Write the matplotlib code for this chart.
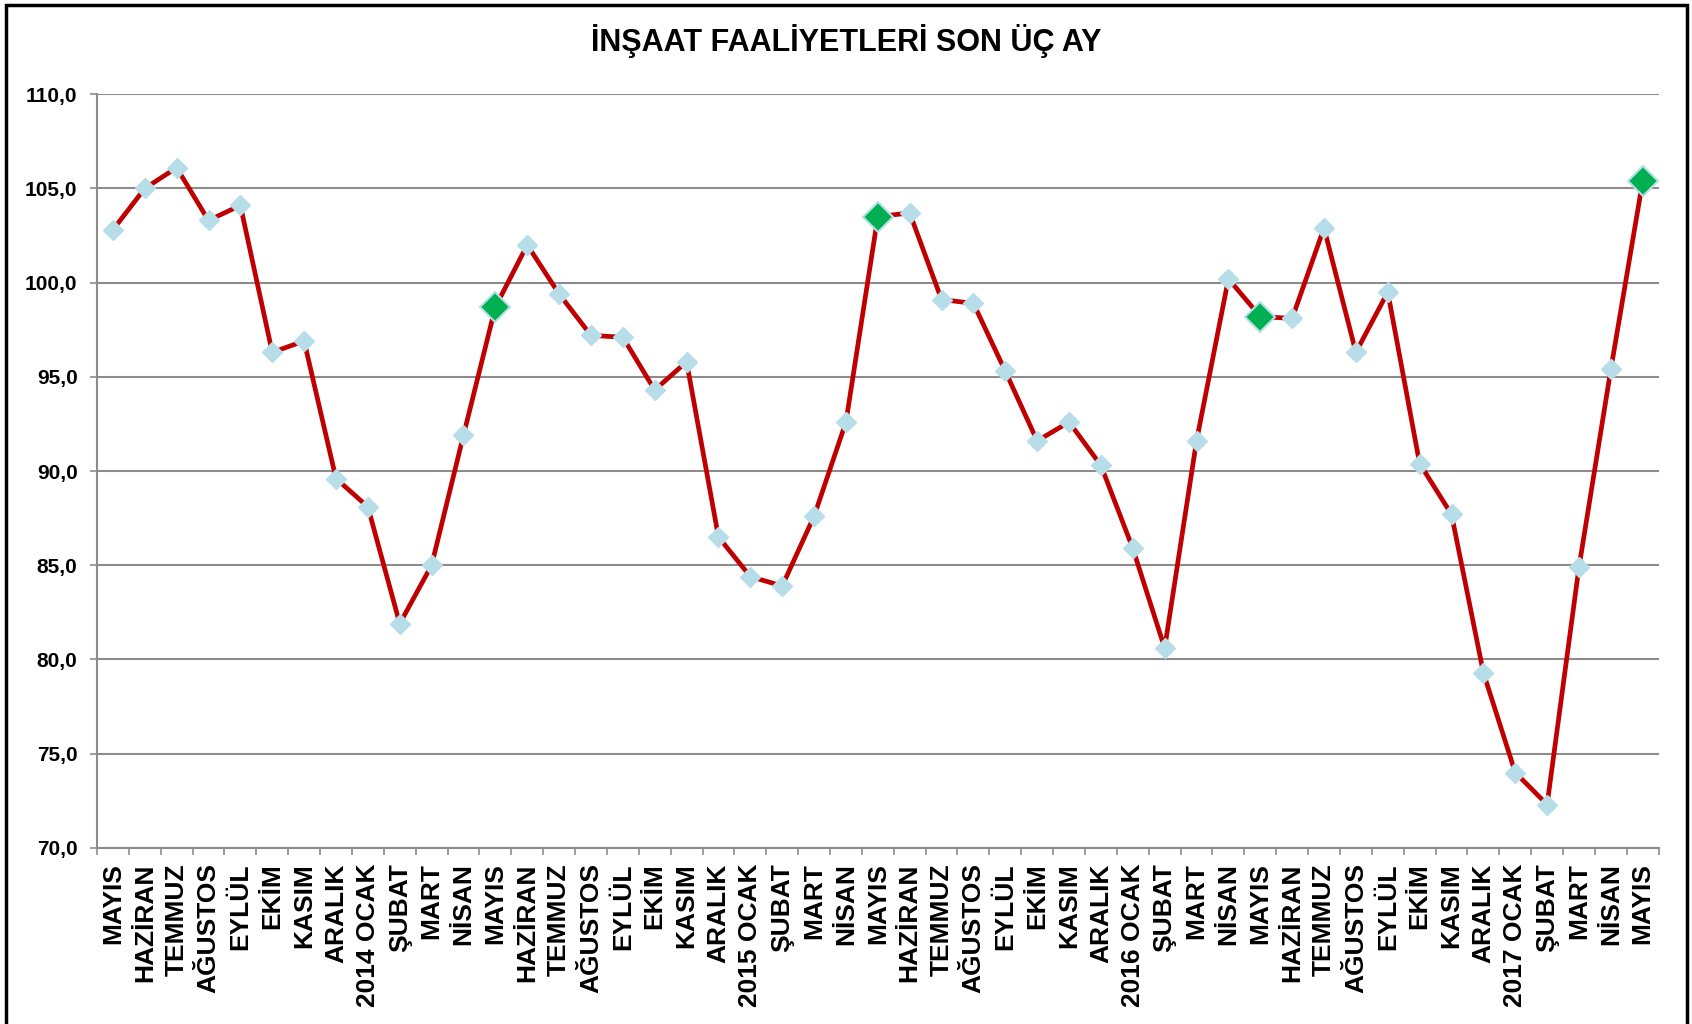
import matplotlib
matplotlib.use("Agg")
import matplotlib.pyplot as plt
from matplotlib.patches import Rectangle
import numpy as np

plt.rcParams['font.family'] = ['Liberation Sans', 'DejaVu Sans']

labels = ["MAYIS", "HAZİRAN", "TEMMUZ", "AĞUSTOS", "EYLÜL", "EKİM", "KASIM", "ARALIK",
          "2014 OCAK", "ŞUBAT", "MART", "NİSAN", "MAYIS", "HAZİRAN", "TEMMUZ", "AĞUSTOS",
          "EYLÜL", "EKİM", "KASIM", "ARALIK", "2015 OCAK", "ŞUBAT", "MART", "NİSAN",
          "MAYIS", "HAZİRAN", "TEMMUZ", "AĞUSTOS", "EYLÜL", "EKİM", "KASIM", "ARALIK",
          "2016 OCAK", "ŞUBAT", "MART", "NİSAN", "MAYIS", "HAZİRAN", "TEMMUZ", "AĞUSTOS",
          "EYLÜL", "EKİM", "KASIM", "ARALIK", "2017 OCAK", "ŞUBAT", "MART", "NİSAN", "MAYIS"]

values = [102.8, 105.0, 106.1, 103.3, 104.1, 96.3, 96.9, 89.6,
          88.1, 81.9, 85.0, 91.9, 98.7, 102.0, 99.4, 97.2,
          97.1, 94.3, 95.8, 86.5, 84.4, 83.9, 87.6, 92.6,
          103.5, 103.7, 99.1, 98.9, 95.3, 91.6, 92.6, 90.3,
          85.9, 80.6, 91.6, 100.2, 98.2, 98.1, 102.9, 96.3,
          99.5, 90.4, 87.7, 79.3, 74.0, 72.3, 84.9, 95.4, 105.4]

highlight_idx = [12, 24, 36, 48]
title = "İNŞAAT FAALİYETLERİ SON ÜÇ AY"
yticks = [70, 75, 80, 85, 90, 95, 100, 105, 110]

fig = plt.figure(figsize=(16.92, 10.24), dpi=100)
ax = fig.add_axes([0.0573, 0.172, 0.923, 0.736])

x = np.arange(len(values))
ax.plot(x, values, color='#C00000', lw=3.4, zorder=3)
ax.plot(x, values, ls='none', marker='D', ms=10.5, mfc='#B7DEE8', mec='#B7DEE8', zorder=4)
hx = [x[i] for i in highlight_idx]
hy = [values[i] for i in highlight_idx]
ax.plot(hx, hy, ls='none', marker='D', ms=15.5, mfc='#00B050', mec='#B7DEE8', mew=1.5, zorder=5)

ax.set_xlim(-0.5, len(values) - 0.5)
ax.set_ylim(70, 110)
ax.set_yticks(yticks)
ax.set_yticklabels([f"{v:.1f}".replace('.', ',') for v in yticks], fontsize=15, fontweight='bold')
ax.yaxis.grid(True, color='#8C8C8C', lw=1.5, zorder=1)
ax.set_axisbelow(True)

ax.set_xticks(x)
ax.set_xticklabels(labels, rotation=90, fontsize=19, fontweight='bold', va='top')
ax.set_xticks(np.arange(-0.5, len(values), 1.0), minor=True)
ax.tick_params(axis='x', which='major', length=0, pad=11)
ax.tick_params(axis='x', which='minor', length=5, color='#8C8C8C', width=1.2)
ax.tick_params(axis='y', length=5, color='#8C8C8C', width=1.2, pad=9)

for s in ['top', 'right']:
    ax.spines[s].set_visible(False)
for s in ['left', 'bottom']:
    ax.spines[s].set_color('#8C8C8C')
    ax.spines[s].set_linewidth(1.5)

fig.text(0.5, 0.96, title, ha='center', va='center', fontsize=22, fontweight='bold')

fig.patches.append(Rectangle((0.0035, -0.05), 0.9935, 1.0455, transform=fig.transFigure,
                             fill=False, edgecolor='black', lw=2.5))

fig.savefig("out.png", dpi=100)
